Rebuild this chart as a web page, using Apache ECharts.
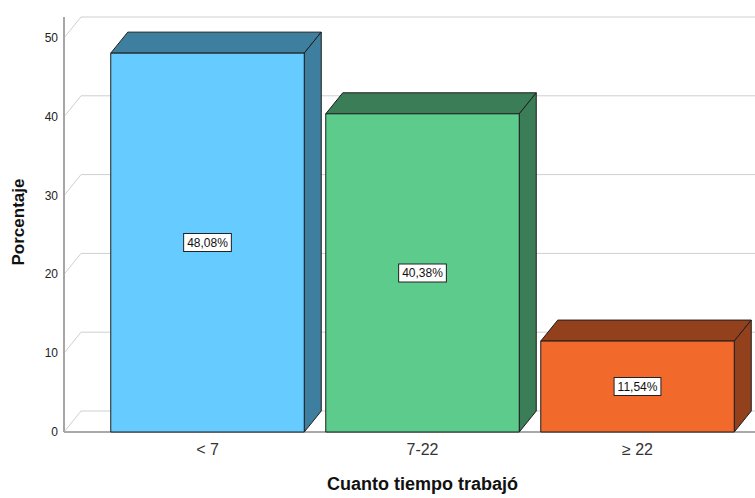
<!DOCTYPE html>
<html>
<head>
<meta charset="utf-8">
<script src="https://cdn.jsdelivr.net/npm/echarts@6/dist/echarts.min.js"></script>
<style>
  html, body { margin: 0; padding: 0; background: #fff; }
  #chart { width: 755px; height: 498px; }
</style>
</head>
<body>
<div id="chart"></div>
<script>
const categories = ['< 7', '7-22', '≥ 22'];
const percentages = [48.08, 40.38, 11.54];
const yTicks = [0, 10, 20, 30, 40, 50];
const frontColors = ['#66CCFF', '#5DCB8C', '#F2692C'];
const shadeColors = ['#3E7E9E', '#3A7D57', '#92411C'];

const FONT = '"Liberation Sans", Arial, sans-serif';
const DX = 17, DY = -21;       // pseudo-3D depth offset
const AXIS_OFFSET = 36;       // front axis sits left of the category band start

const chart = echarts.init(document.getElementById('chart'), null, { renderer: 'svg' });

function fmt(v) { return v.toFixed(2).replace('.', ',') + '%'; }

const option = {
  animation: false,
  backgroundColor: '#ffffff',
  grid: { left: 100, right: 10, top: 38, bottom: 63 },
  xAxis: {
    type: 'category',
    data: categories,
    axisLine: { show: false },
    axisTick: { show: false },
    axisLabel: { color: '#333', fontSize: 16, fontFamily: FONT, margin: 9 },
    name: 'Cuanto tiempo trabajó',
    nameLocation: 'middle',
    nameGap: 43,
    nameTextStyle: { color: '#111', fontSize: 18, fontWeight: 'bold', fontFamily: FONT }
  },
  yAxis: {
    type: 'value',
    min: 0, max: 50, interval: 10,
    axisLine: { show: false },
    axisTick: { show: false },
    splitLine: { show: false },
    axisLabel: { color: '#222', fontSize: 12, fontFamily: FONT, margin: 42 }
  },
  graphic: [{
    type: 'text',
    x: 18, y: 222,
    rotation: Math.PI / 2,
    style: {
      text: 'Porcentaje',
      align: 'center', verticalAlign: 'middle',
      font: 'bold 17px ' + FONT,
      fill: '#111'
    }
  }],
  series: [
    {
      type: 'custom',
      name: 'frame',
      silent: true,
      z: 1,
      clip: false,
      data: [[0, 0]],
      renderItem: function (params, api) {
        const cs = params.coordSys;
        const fx = cs.x - AXIS_OFFSET;
        const right = api.getWidth();
        const children = [];
        yTicks.forEach(function (t) {
          const y = api.coord([0, t])[1];
          children.push({
            type: 'line',
            shape: { x1: fx + DX, y1: y + DY, x2: right, y2: y + DY },
            style: { stroke: '#cfcfcf', lineWidth: 1 }
          });
          children.push({
            type: 'line',
            shape: { x1: fx, y1: y, x2: fx + DX, y2: y + DY },
            style: { stroke: '#cfcfcf', lineWidth: 1 }
          });
        });
        const y0 = api.coord([0, yTicks[0]])[1];
        const yTop = api.coord([0, yTicks[yTicks.length - 1]])[1] + DY;
        children.push({
          type: 'line',
          shape: { x1: fx, y1: y0, x2: right, y2: y0 },
          style: { stroke: '#8c8c8c', lineWidth: 1.5 }
        });
        children.push({
          type: 'line',
          shape: { x1: fx, y1: y0, x2: fx, y2: yTop },
          style: { stroke: '#a6a6a6', lineWidth: 2 }
        });
        return { type: 'group', children: children };
      }
    },
    {
      type: 'custom',
      name: 'bars',
      z: 2,
      clip: false,
      data: percentages.map(function (v, i) { return [i, v]; }),
      renderItem: function (params, api) {
        const i = api.value(0), v = api.value(1);
        const top = api.coord([i, v]);
        const base = api.coord([i, 0]);
        const bw = api.size([1, 0])[0] * 0.9;
        const x0 = top[0] - bw / 2, x1 = top[0] + bw / 2;
        const y0 = top[1], y1 = base[1];
        const stroke = { stroke: '#1e1e1e', lineWidth: 1, lineJoin: 'round' };
        return {
          type: 'group',
          children: [
            {
              type: 'polygon',
              shape: { points: [[x0, y0], [x0 + DX, y0 + DY], [x1 + DX, y0 + DY], [x1, y0]] },
              style: Object.assign({ fill: shadeColors[i] }, stroke)
            },
            {
              type: 'polygon',
              shape: { points: [[x1, y0], [x1 + DX, y0 + DY], [x1 + DX, y1 + DY], [x1, y1]] },
              style: Object.assign({ fill: shadeColors[i] }, stroke)
            },
            {
              type: 'rect',
              shape: { x: x0, y: y0, width: x1 - x0, height: y1 - y0 },
              style: Object.assign({ fill: frontColors[i] }, stroke)
            },
            {
              type: 'text',
              x: top[0], y: (y0 + y1) / 2,
              style: {
                text: fmt(v),
                align: 'center', verticalAlign: 'middle',
                font: '12px ' + FONT,
                fill: '#111',
                backgroundColor: '#ffffff',
                borderColor: '#222',
                borderWidth: 1,
                padding: [3, 3, 2, 3]
              }
            }
          ]
        };
      }
    }
  ]
};

chart.setOption(option);
</script>
</body>
</html>
